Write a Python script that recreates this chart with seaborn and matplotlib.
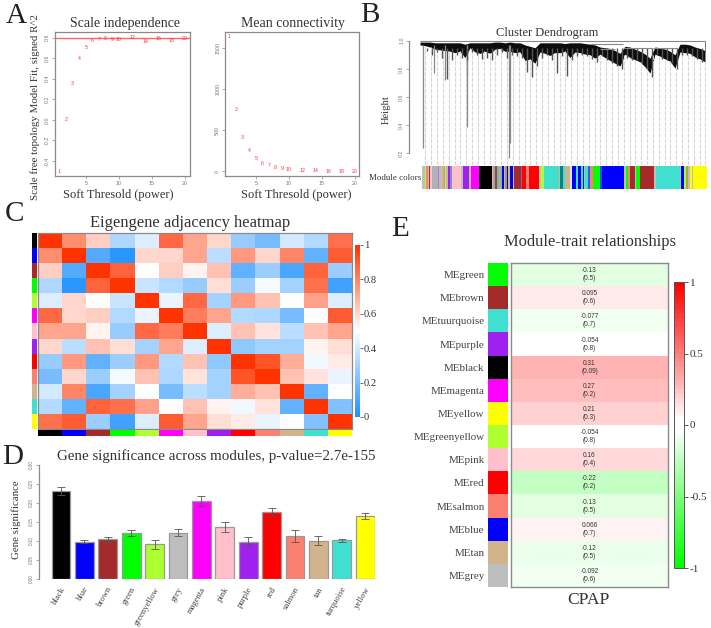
import numpy as np
import matplotlib
matplotlib.use("Agg")
import matplotlib.pyplot as plt
from matplotlib.colors import ListedColormap, LinearSegmentedColormap
from matplotlib.transforms import ScaledTranslation
import seaborn as sns

W, H = 711, 628
SERIF = "Liberation Serif"
SANS = "Liberation Sans"
AXC = "#8a8a8a"
TXT = "#333333"

# Panel A
powers = [1, 2, 3, 4, 5, 6, 7, 8, 9, 10, 12, 14, 16, 18, 20]
sft_r2 = [-0.50, 0.00, 0.35, 0.60, 0.70, 0.77, 0.78, 0.79, 0.78, 0.78, 0.805, 0.76, 0.79, 0.77, 0.79]
mean_k = [1640, 760, 415, 250, 160, 100, 72, 50, 35, 25, 10, 6, 3, 3, 1]

# Panel B: dendrogram envelope (position, top height, lower height)
dend_x = [180, 195, 210, 225, 240, 255, 270, 285, 300, 315, 330, 345, 360, 375, 390, 405, 420, 435, 450, 465,
          480, 495, 510, 525, 540, 555, 570, 585, 600, 615, 630, 645, 660, 675, 690, 705, 720, 735, 750, 765,
          780, 795, 810, 825, 840, 855, 870, 885, 900, 915, 930, 945, 960, 975, 990, 1005, 1020, 1035]
dend_top = [.99, .99, .99, .985, .985, .985, .985, .985, .985, .975, .985, .985, .985, .985, .985, .99, .99, .985, .99, .985,
            .985, .97, .96, .95, .985, .985, .985, .985, .985, .98, .985, .985, .985, .98, .975, .97, .955, .95, .945, .93,
            .91, .96, .955, .94, .925, .905, .875, .955, .95, .94, .925, .90, .975, .975, .97, .955, .945, .93]
dend_low = [.97, .965, .955, .94, .935, .93, .925, .915, .925, .88, .95, .92, .91, .925, .91, .94, .945, .925, .925, .915,
            .92, .86, .87, .84, .92, .91, .895, .915, .915, .925, .88, .92, .915, .905, .90, .875, .905, .88, .86, .84,
            .82, .905, .88, .865, .85, .815, .77, .905, .89, .87, .855, .805, .92, .915, .91, .885, .87, .85]
spike_x = [187, 202, 217, 232, 247, 262, 277, 292, 307, 322, 337, 352, 367, 382, 397, 412, 427, 442, 457, 472,
           487, 502, 517, 532, 547, 562, 577, 592, 607, 622, 637, 652, 667, 682, 697, 712, 727, 742, 757, 772,
           787, 802, 817, 832, 847, 862, 877, 892, 907, 922, 937, 952, 967, 982, 997, 1012, 1027]
spike_low = [.95, .93, .90, .92, .88, .73, .86, .90, .88, .86, .92, .90, .87, .88, .86, .90, .92, .88, .90, .89,
             .88, .78, .745, .82, .88, .90, .86, .77, .89, .75, .86, .89, .90, .89, .87, .85, .89, .86, .84, .82,
             .80, .88, .86, .86, .84, .80, .74, .90, .87, .86, .84, .80, .90, .90, .89, .87, .85]
drip_x = [190, 222, 255, 320, 322, 447, 449]
drip_low = [.24, .77, .72, .75, .39, .17, .27]
branch_y = [1.0, .975, .94, .95, .945]
branch_x0 = [180, 690, 720, 790, 880]
branch_x1 = [1035, 790, 765, 875, 950]
guide_x = [196, 214, 231, 249, 266, 284, 301, 319, 336, 354, 371, 389, 406, 424, 441, 459, 476, 494, 511, 529,
           546, 564, 581, 599, 616, 634, 651, 669, 686, 704, 721, 739, 756, 774, 791, 809, 826, 844, 861, 879,
           896, 914, 931, 949, 966, 984, 1001, 1019, 1035]
strip_colors = ["#BEBEBE", "#ADFF2F", "#FA8072", "#BEBEBE", "#A52A2A", "#FFC0CB", "#A8B4B8", "#DD66DD", "#BEBEBE", "#C8C060",
                "#80C060", "#FFC0CB", "#D2B48C", "#A020F0", "#8090C8", "#FFC0CB", "#BEBEBE", "#A020F0", "#BEBEBE", "#FF00FF",
                "#BEBEBE", "#000000", "#BEBEBE", "#FA8072", "#108080", "#FA8072", "#40E0D0", "#FA8072", "#0000FF", "#D2B48C",
                "#A0A040", "#0000FF", "#D2B48C", "#0000FF", "#BEBEBE", "#A52A2A", "#9060A0", "#FF0000", "#FA8072", "#FF0000",
                "#BEBEBE", "#ADFF2F", "#40E0D0", "#D2B48C", "#108080", "#40E0D0", "#D2B48C", "#E0E0E0", "#0000FF", "#40E0D0",
                "#0000FF", "#40E0D0", "#0000FF", "#D2B48C", "#40E0D0", "#3060E0", "#FA8072", "#00FF00", "#2050F0", "#0000FF",
                "#BEBEBE", "#00FF00", "#FA8072", "#A52A2A", "#BEBEBE", "#00FF00", "#A52A2A", "#BEBEBE", "#40E0D0", "#BEBEBE",
                "#0000FF", "#ADFF2F", "#B0A050", "#BEBEBE", "#FFFF00", "#BEBEBE", "#FFFF00"]
strip_widths = [10, 4, 4, 4, 4, 4, 18, 4, 8, 6, 4, 4, 6, 4, 8, 26, 5, 20, 4, 24,
                2, 37, 4, 6, 6, 6, 6, 4, 4, 4, 6, 4, 4, 10, 2, 22, 4, 11, 8, 31,
                5, 10, 45, 4, 8, 5, 17, 4, 12, 8, 8, 5, 3, 4, 10, 6, 7, 22, 7, 65,
                5, 6, 7, 15, 3, 12, 43, 4, 73, 3, 8, 6, 8, 6, 4, 5, 40]

# Panel C
adj_modules = ["black", "blue", "brown", "green", "greenyellow", "magenta", "pink", "purple", "red", "salmon", "tan", "turquoise", "yellow"]
adj_black = [1, .78, .62, .32, .42, .87, .72, .60, .27, .20, .40, .33, .85]
adj_blue = [.78, 1, .12, .03, .60, .60, .72, .35, .75, .60, .80, .15, .90]
adj_brown = [.62, .12, 1, .88, .50, .62, .53, .65, .15, .28, .10, .88, .28]
adj_green = [.32, .03, .88, 1, .38, .33, .27, .58, .28, .48, .30, .85, .08]
adj_gy = [.42, .60, .50, .38, 1, .45, .87, .30, .75, .65, .50, .73, .42]
adj_magenta = [.87, .60, .62, .33, .45, 1, .82, .72, .33, .32, .20, .50, .90]
adj_pink = [.72, .72, .53, .27, .87, .82, 1, .42, .65, .57, .35, .65, .72]
adj_purple = [.60, .35, .65, .58, .30, .72, .42, 1, .25, .30, .30, .53, .58]
adj_red = [.27, .75, .15, .28, .75, .33, .65, .25, 1, .92, .70, .47, .55]
adj_salmon = [.20, .60, .28, .48, .65, .32, .57, .30, .92, 1, .65, .57, .45]
adj_tan = [.40, .80, .10, .30, .50, .20, .35, .30, .70, .65, 1, .15, .50]
adj_turq = [.33, .15, .88, .85, .73, .50, .65, .53, .47, .57, .15, 1, .22]
adj_yellow = [.85, .90, .28, .08, .42, .90, .72, .58, .55, .45, .50, .22, 1]

# Panel D
gs_modules = ["black", "blue", "brown", "green", "greenyellow", "grey", "magenta", "pink", "purple", "red", "salmon", "tan", "turquoise", "yellow"]
gs_values = [.232, .098, .104, .121, .091, .122, .206, .136, .098, .176, .113, .101, .102, .166]
gs_errors = [.010, .004, .006, .007, .012, .009, .013, .013, .013, .010, .015, .011, .004, .008]

# Panel E
me_labels = ["MEgreen", "MEbrown", "MEtuurquoise", "MEpurple", "MEblack", "MEmagenta", "MEyellow", "MEgreenyellow",
             "MEpink", "MEred", "MEsalmon", "MEblue", "MEtan", "MEgrey"]
me_modules = ["green", "brown", "turquoise", "purple", "black", "magenta", "yellow", "greenyellow",
              "pink", "red", "salmon", "blue", "tan", "grey"]
me_corr = [-.13, .095, -.077, -.054, .31, .27, .21, -.054, .16, -.22, -.13, .066, -.12, -.092]
me_corr_txt = ["-0.13", "0.095", "-0.077", "-0.054", "0.31", "0.27", "0.21", "-0.054", "0.16", "-0.22", "-0.13", "0.066", "-0.12", "-0.092"]
me_p_txt = ["0.5", "0.6", "0.7", "0.8", "0.09", "0.2", "0.3", "0.8", "0.4", "0.2", "0.5", "0.7", "0.5", "0.6"]
cmap_levels = [-1, -.22, -.13, -.07, -.055, .05, .08, .21, .31, 1]
cmap_colors = ["#00FF00", "#C8FFC8", "#E6FFE6", "#F2FFF2", "#FFFFFF", "#FFFFFF", "#FFF2F2", "#FFD0D0", "#FFB0B0", "#FF0000"]

RC = dict(black="#000000", blue="#0000FF", brown="#A52A2A", green="#00FF00", greenyellow="#ADFF2F", grey="#BEBEBE",
          magenta="#FF00FF", pink="#FFC0CB", purple="#A020F0", red="#FF0000", salmon="#FA8072", tan="#D2B48C",
          turquoise="#40E0D0", yellow="#FFFF00")

sns.set_theme(style="white")
plt.rcParams["font.family"] = [SERIF, "DejaVu Sans"]
fig = plt.figure(figsize=(W / 100, H / 100), dpi=100, facecolor="white")


def axpx(x0, y0, x1, y1):
    return fig.add_axes([x0 / W, 1 - y1 / H, (x1 - x0) / W, (y1 - y0) / H])


def ftext(x, y, s, size, **kw):
    kw.setdefault("ha", "center")
    kw.setdefault("va", "center")
    kw.setdefault("color", TXT)
    kw.setdefault("family", SERIF)
    fig.text(x / W, 1 - y / H, s, fontsize=size, **kw)


def rstyle(ax, size=3.8):
    for s in ax.spines.values():
        s.set_color(AXC)
        s.set_linewidth(0.9)
    ax.tick_params(axis="both", length=2, width=0.5, color=AXC, labelsize=size, labelcolor="#777777", pad=1.5, bottom=True, left=True)
    for t in ax.get_xticklabels() + ax.get_yticklabels():
        t.set_family(SANS)
    for t in ax.get_yticklabels():
        t.set_rotation(90)
        t.set_va("center")


def strip(ax, colors, vertical=True):
    arr = np.arange(len(colors))
    arr = arr.reshape(-1, 1) if vertical else arr.reshape(1, -1)
    sns.heatmap(arr, cmap=ListedColormap(colors), cbar=False, xticklabels=False, yticklabels=False, ax=ax)


for x, y, s in [(16, 16, "A"), (370, 15, "B"), (15, 214, "C"), (13, 457, "D"), (400, 229, "E")]:
    ftext(x, y, s, 21, color="#222222")

# --- A
ax = axpx(55, 32, 190, 176)
ax.set_xlim(0.34, 20.76)
ax.set_ylim(-0.546, 0.855)
ax.axhline(0.8, color="#ff6666", lw=1.0)
for p, v in zip(powers, sft_r2):
    ax.text(p, v, str(p), color="#ff3344", fontsize=3.8, ha="center", va="center", family=SANS)
ax.set_xticks([5, 10, 15, 20])
ax.set_yticks([-0.4, -0.2, 0.0, 0.2, 0.4, 0.6, 0.8])
ax.set_yticklabels(["-0.4", "-0.2", "0.0", "0.2", "0.4", "0.6", "0.8"])
rstyle(ax)
ftext(124.5, 23, "Scale independence", 10)
ftext(118, 195, "Soft Thresold (power)", 9)
ftext(35, 107, "Scale free topology Model Fit, signed R^2", 7.8, rotation=90)

ax = axpx(225, 32, 359, 176)
ax.set_xlim(0.34, 20.6)
ax.set_ylim(-57, 1700)
for p, v in zip(powers, mean_k):
    ax.text(p, v, str(p), color="#ff3344", fontsize=3.8, ha="center", va="center", family=SANS)
ax.set_xticks([5, 10, 15, 20])
ax.set_yticks([0, 500, 1000, 1500])
ax.set_yticklabels(["0", "500", "1000", "1500"])
rstyle(ax)
ftext(293, 23, "Mean connectivity", 10)
ftext(296, 195, "Soft Thresold (power)", 9)

# --- B
ax = axpx(409, 40.7, 706, 165)
ax.set_xlim(147, 1038)
ax.set_ylim(0.117, 1.0)
low_at_guide = dict(zip(dend_x, dend_low))
for gx in guide_x:
    nearest = min(dend_x, key=lambda d: abs(d - gx))
    ax.vlines(gx, 0.117, low_at_guide[nearest], color="#d8d8d8", lw=0.8, ls=(0, (4, 1)))
ax.vlines(drip_x, drip_low, 0.97, color="#888888", lw=0.9)
ax.vlines(spike_x, spike_low, 0.95, color="#555555", lw=1.0)
ax.fill_between(dend_x, dend_low, dend_top, color="#0c0c0c", lw=0)
ax.hlines(branch_y, branch_x0, branch_x1, color="#888888", lw=0.8, clip_on=False)
ax.vlines(1035, .93, 1.0, color="#666666", lw=0.6)
ax.set_xticks([])
ax.set_yticks([.2, .4, .6, .8, 1.0])
ax.set_yticklabels(["0.2", "0.4", "0.6", "0.8", "1.0"])
rstyle(ax)
for k in ["top", "right", "bottom"]:
    ax.spines[k].set_visible(False)
ax.spines["left"].set_bounds(0.2, 1.0)
ftext(546.7, 33, "Cluster Dendrogram", 9)
ftext(386, 110, "Height", 7.6, rotation=90)
ftext(421, 178, "Module colors", 6.4, ha="right")

ax = axpx(421.7, 166, 706.7, 188.7)
lefts = np.cumsum([0] + strip_widths[:-1])
ax.barh([0] * len(strip_widths), strip_widths, left=lefts, color=strip_colors, height=1, lw=0)
ax.set_xlim(0, sum(strip_widths))
ax.set_ylim(-0.5, 0.5)
ax.axis("off")

# --- C
adj = np.array([adj_black, adj_blue, adj_brown, adj_green, adj_gy, adj_magenta, adj_pink, adj_purple,
                adj_red, adj_salmon, adj_tan, adj_turq, adj_yellow])
cmapC = LinearSegmentedColormap.from_list("bwo", ["#1E90FF", "#FFFFFF", "#FF3300"])
ax = axpx(38, 233, 352, 429)
cax = axpx(354.5, 245, 359.5, 417)
sns.heatmap(adj, vmin=0, vmax=1, cmap=cmapC, ax=ax, cbar_ax=cax, xticklabels=False, yticklabels=False)
for s in ax.spines.values():
    s.set_visible(True)
    s.set_color(AXC)
    s.set_linewidth(0.9)
cax.tick_params(length=2, width=0.6, color="#555555", pad=1, labelsize=7.6, labelcolor=TXT, right=True)
cax.set_yticks([0, .2, .4, .6, .8, 1])
cax.set_yticklabels(["0", "0.2", "0.4", "0.6", "0.8", "1"], family=SERIF)
ax.collections[0].colorbar.outline.set_visible(False)
strip(axpx(32, 233, 37, 429), [RC[m] for m in adj_modules])
strip(axpx(38, 429.8, 352, 436), [RC[m] for m in adj_modules], vertical=False)
ftext(190, 223, "Eigengene adjacency heatmap", 11.9)

# --- D
ax = axpx(39, 465, 375, 579)
sns.barplot(x=gs_modules, y=gs_values, hue=gs_modules, palette=RC, legend=False, width=0.81, errorbar=None, saturation=1,
            edgecolor="#999999", linewidth=0.9, ax=ax)
ax.errorbar(range(len(gs_values)), gs_values, yerr=gs_errors, fmt="none", ecolor="#555555", elinewidth=0.6, capsize=3.2, capthick=0.6)
ax.set_xlim(-0.94, 13.42)
ax.set_ylim(0, 0.30)
ax.set_yticks([0, .05, .10, .15, .20, .25, .30])
ax.set_yticklabels(["0.00", "0.05", "0.10", "0.15", "0.20", "0.25", "0.30"])
rstyle(ax, size=3.3)
for k in ["top", "right", "bottom"]:
    ax.spines[k].set_visible(False)
ax.set_xticks(range(len(gs_modules)))
ax.set_xticklabels(gs_modules, rotation=60, ha="right", va="center", rotation_mode="anchor", family=SERIF, fontsize=6.2, color="#444444")
ax.tick_params(axis="x", length=0, pad=6)
shift = ScaledTranslation(2 / 72, 0, fig.dpi_scale_trans)
for t in ax.get_xticklabels():
    t.set_transform(t.get_transform() + shift)
ftext(216, 456, "Gene significance across modules, p-value=2.7e-155", 10.8)
ftext(16, 520, "Gene significance", 7.8, rotation=90)

# --- E
cmapE = LinearSegmentedColormap.from_list("gwr", [((v + 1) / 2, c) for v, c in zip(cmap_levels, cmap_colors)], N=64)
corr = np.array(me_corr).reshape(-1, 1)
annot = np.array([f"{c}\n({p})" for c, p in zip(me_corr_txt, me_p_txt)]).reshape(-1, 1)
ax = axpx(511, 263, 668, 587)
cax = axpx(674, 282, 684, 568)
sns.heatmap(corr, vmin=-1, vmax=1, cmap=cmapE, ax=ax, cbar_ax=cax, annot=annot, fmt="", xticklabels=False, yticklabels=False,
            annot_kws=dict(fontsize=4.7, color="#333333", family=SANS))
for s in ax.spines.values():
    s.set_visible(True)
    s.set_color(AXC)
    s.set_linewidth(1.0)
cax.tick_params(length=3, width=0.7, color="#555555", pad=1, labelsize=8, labelcolor=TXT, right=True)
cax.set_yticks([-1, -.5, 0, .5, 1])
cax.set_yticklabels(["-1", "-0.5", "0", "0.5", "1"], family=SERIF)
cb = ax.collections[0].colorbar
cb.outline.set_edgecolor("#555555")
cb.outline.set_linewidth(0.7)
sax = axpx(488, 263, 508, 587)
strip(sax, [RC[m] for m in me_modules])
sax.set_yticks(np.arange(len(me_labels)) + 0.5)
sax.set_yticklabels(me_labels, family=SERIF, fontsize=7.9, color="#444444", rotation=0)
sax.tick_params(axis="y", length=0, pad=2.5, left=False)
ftext(590, 242, "Module-trait relationships", 11.9)
ftext(588, 600, "CPAP", 12.6)

fig.savefig("out.png", dpi=100, facecolor="white")
